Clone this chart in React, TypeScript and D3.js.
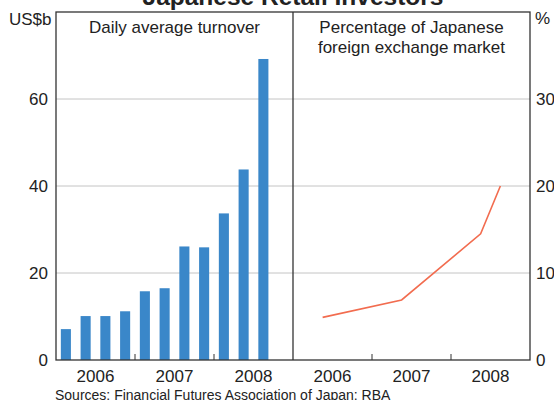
import React from "react";
import * as d3 from "d3";

const W = 554;
const H = 400;

// Left panel: daily average turnover (US$b), quarterly
const barYears = [2006, 2006, 2006, 2006, 2007, 2007, 2007, 2007, 2008, 2008, 2008];
const barQuarters = [1, 2, 3, 4, 1, 2, 3, 4, 1, 2, 3];
const turnover = [7.1, 10.1, 10.1, 11.2, 15.8, 16.5, 26.1, 25.9, 33.7, 43.8, 69.2];

// Right panel: percentage of Japanese foreign exchange market
const lineYears = [2006, 2007, 2008, 2008];
const lineQuarters = [2, 2, 2, 3];
const share = [4.9, 6.9, 14.5, 20.0];

const leftTicks = [0, 20, 40, 60];
const rightTicks = [0, 10, 20, 30];
const yearLabels = [2006, 2007, 2008];
const yearBoundaries = [2007, 2008];

const FONT = "Arial, 'Liberation Sans', sans-serif";
const BAR = "#3a87c9";
const LINE = "#f26c4f";
const AXIS = "#333333";
const GRID = "#c4c4c4";
const TEXT = "#222222";

export default function App() {
  const left = 56, mid = 293, right = 530, top = 12, bottom = 360;

  const xL = d3.scaleLinear().domain([2006, 2009]).range([left, mid]);
  const xR = d3.scaleLinear().domain([2006, 2009]).range([mid, right]);
  const yL = d3.scaleLinear().domain([0, 80]).range([bottom, top]);
  const yR = d3.scaleLinear().domain([0, 40]).range([bottom, top]);

  const qx = (y: number, q: number) => y + (q - 0.5) / 4;
  const quarterW = xL(2006.25) - xL(2006);
  const barW = quarterW * 0.51;

  const linePts: [number, number][] = share.map((v, i) => [
    xR(qx(lineYears[i], lineQuarters[i])),
    yR(v),
  ]);
  const lineGen = d3.line();

  return (
    <svg
      width={W}
      height={H}
      style={{ position: "absolute", left: 0, top: 0, background: "#fff" }}
      fontFamily={FONT}
    >
      <rect x={0} y={0} width={W} height={H} fill="#fff" />
      {/* title */}
      <text x={293} y={4.5} textAnchor="middle" fontSize={24.5} fontWeight="bold" fill={TEXT}>
        Japanese Retail Investors
      </text>

      {/* gridlines */}
      {leftTicks.filter((t) => t > 0).map((t) => (
        <line key={t} x1={left} x2={right} y1={yL(t)} y2={yL(t)} stroke={GRID} strokeWidth={1} />
      ))}

      {/* bars */}
      {turnover.map((v, i) => {
        const cx = xL(qx(barYears[i], barQuarters[i]));
        return (
          <rect key={i} x={cx - barW / 2} y={yL(v)} width={barW} height={yL(0) - yL(v)} fill={BAR} />
        );
      })}

      {/* line */}
      <path d={lineGen(linePts) || ""} fill="none" stroke={LINE} strokeWidth={1.6} />

      {/* frame */}
      <rect x={left} y={top} width={right - left} height={bottom - top} fill="none" stroke={AXIS} strokeWidth={1.3} />
      <line x1={mid} x2={mid} y1={top} y2={bottom} stroke={AXIS} strokeWidth={1.3} />

      {/* bottom ticks */}
      {yearBoundaries.map((y) => (
        <g key={y}>
          <line x1={xL(y)} x2={xL(y)} y1={bottom} y2={bottom - 6} stroke={AXIS} strokeWidth={1} />
          <line x1={xR(y)} x2={xR(y)} y1={bottom} y2={bottom - 6} stroke={AXIS} strokeWidth={1} />
        </g>
      ))}

      {/* year labels */}
      {yearLabels.map((y) => (
        <g key={y}>
          <text x={xL(y + 0.5)} y={382} textAnchor="middle" fontSize={17} fill={TEXT}>{y}</text>
          <text x={xR(y + 0.5)} y={382} textAnchor="middle" fontSize={17} fill={TEXT}>{y}</text>
        </g>
      ))}

      {/* left axis labels */}
      {leftTicks.map((t) => (
        <text key={t} x={48} y={yL(t)} dy="0.35em" textAnchor="end" fontSize={17} fill={TEXT}>{t}</text>
      ))}
      {/* right axis labels */}
      {rightTicks.map((t) => (
        <text key={t} x={536} y={yR(t)} dy="0.35em" textAnchor="start" fontSize={17} fill={TEXT}>{t}</text>
      ))}

      {/* units */}
      <text x={9} y={25} fontSize={17} fill={TEXT}>US$b</text>
      <text x={535} y={24} fontSize={17} fill={TEXT}>%</text>

      {/* panel titles */}
      <text x={(left + mid) / 2} y={33} textAnchor="middle" fontSize={17} fill={TEXT}>Daily average turnover</text>
      <text x={(mid + right) / 2} y={33} textAnchor="middle" fontSize={17} fill={TEXT}>Percentage of Japanese</text>
      <text x={(mid + right) / 2} y={53} textAnchor="middle" fontSize={17} fill={TEXT}>foreign exchange market</text>

      {/* source */}
      <text x={55} y={399.5} fontSize={14} fill={TEXT}>Sources: Financial Futures Association of Japan; RBA</text>
    </svg>
  );
}
